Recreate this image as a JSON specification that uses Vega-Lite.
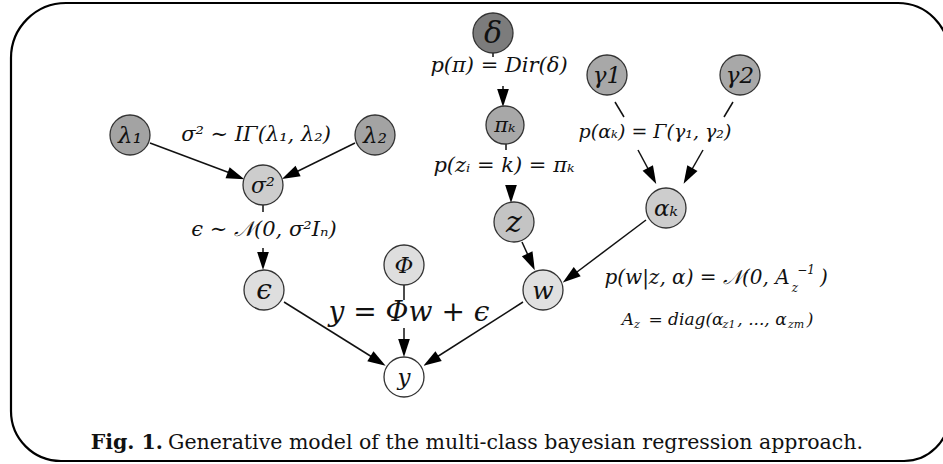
{
  "$schema": "https://vega.github.io/schema/vega-lite/v6.json",
  "width": 943,
  "height": 464,
  "autosize": {"type": "none"},
  "padding": 0,
  "background": "#ffffff",
  "config": {"view": {"stroke": null}, "axis": {"disable": true}},
  "datasets": {
    "frame": [{"name": "border"}],
    "edges": [
      {"x1": 150, "y1": 143, "x2": 238, "y2": 176},
      {"x1": 355, "y1": 143, "x2": 288, "y2": 176},
      {"x1": 263, "y1": 205, "x2": 263, "y2": 212},
      {"x1": 263, "y1": 248, "x2": 263, "y2": 262},
      {"x1": 404, "y1": 285, "x2": 404, "y2": 300},
      {"x1": 404, "y1": 328, "x2": 404, "y2": 350},
      {"x1": 493, "y1": 52, "x2": 493, "y2": 57},
      {"x1": 503, "y1": 86, "x2": 503, "y2": 101},
      {"x1": 506, "y1": 144, "x2": 506, "y2": 150},
      {"x1": 511, "y1": 186, "x2": 511, "y2": 196},
      {"x1": 522, "y1": 242, "x2": 532, "y2": 264},
      {"x1": 615, "y1": 102, "x2": 624, "y2": 117},
      {"x1": 638, "y1": 150, "x2": 653, "y2": 178},
      {"x1": 733, "y1": 102, "x2": 724, "y2": 117},
      {"x1": 703, "y1": 150, "x2": 687, "y2": 178},
      {"x1": 646, "y1": 220, "x2": 569, "y2": 278},
      {"x1": 284, "y1": 302, "x2": 380, "y2": 362},
      {"x1": 523, "y1": 302, "x2": 429, "y2": 362}
    ],
    "heads": [
      {"x": 236, "y": 176, "a": 110.6},
      {"x": 290, "y": 175, "a": 244.1},
      {"x": 263, "y": 261, "a": 180},
      {"x": 404, "y": 348, "a": 180},
      {"x": 503, "y": 98, "a": 180},
      {"x": 511, "y": 194, "a": 180},
      {"x": 531, "y": 262, "a": 155},
      {"x": 652, "y": 176, "a": 152.1},
      {"x": 688, "y": 176, "a": 209.2},
      {"x": 570, "y": 277, "a": 233.3},
      {"x": 378, "y": 361, "a": 122.1},
      {"x": 431, "y": 361, "a": 237.4}
    ],
    "nodes": [
      {"x": 130, "y": 135, "f": "#a3a3a3", "s": 1600, "t": "λ₁", "ts": 23},
      {"x": 375, "y": 135, "f": "#a3a3a3", "s": 1600, "t": "λ₂", "ts": 23},
      {"x": 263, "y": 185, "f": "#cdcdcd", "s": 1600, "t": "σ²", "ts": 22},
      {"x": 264, "y": 290, "f": "#dedede", "s": 1600, "t": "ϵ", "ts": 28},
      {"x": 404, "y": 265, "f": "#dedede", "s": 1600, "t": "Φ", "ts": 23},
      {"x": 404, "y": 377, "f": "#ffffff", "s": 1600, "t": "y", "ts": 23},
      {"x": 493, "y": 33, "f": "#7c7c7c", "s": 1600, "t": "δ", "ts": 30},
      {"x": 505, "y": 125, "f": "#a8a8a8", "s": 1444, "t": "πₖ", "ts": 21},
      {"x": 514, "y": 222, "f": "#c4c4c4", "s": 1600, "t": "z", "ts": 30},
      {"x": 543, "y": 290, "f": "#e0e0e0", "s": 1600, "t": "w", "ts": 25},
      {"x": 607, "y": 75, "f": "#a8a8a8", "s": 1600, "t": "γ1", "ts": 23},
      {"x": 740, "y": 75, "f": "#a8a8a8", "s": 1600, "t": "γ2", "ts": 23},
      {"x": 666, "y": 208, "f": "#cdcdcd", "s": 1600, "t": "αₖ", "ts": 23}
    ],
    "math": [
      {"x": 256, "y": 135, "t": "σ² ∼ IΓ(λ₁, λ₂)", "s": 21},
      {"x": 264, "y": 230, "t": "ϵ ∼ 𝒩(0, σ²Iₙ)", "s": 21},
      {"x": 499, "y": 66, "t": "p(π) = Dir(δ)", "s": 21},
      {"x": 504, "y": 166, "t": "p(zᵢ = k) = πₖ", "s": 21},
      {"x": 655, "y": 132, "t": "p(αₖ) = Γ(γ₁, γ₂)", "s": 19},
      {"x": 409, "y": 313, "t": "y = Φw + ϵ", "s": 28},
      {"x": 697, "y": 278, "t": "p(w|z, α) = 𝒩(0, A", "s": 20},
      {"x": 795, "y": 288, "t": "z", "s": 12},
      {"x": 806, "y": 270, "t": "−1", "s": 12},
      {"x": 824, "y": 278, "t": ")", "s": 20},
      {"x": 628, "y": 320, "t": "A", "s": 17},
      {"x": 637, "y": 325, "t": "z", "s": 11},
      {"x": 686, "y": 320, "t": "= diag(α", "s": 17},
      {"x": 729, "y": 325, "t": "z1", "s": 11},
      {"x": 762, "y": 320, "t": ", ..., α", "s": 17},
      {"x": 796, "y": 325, "t": "zm", "s": 11},
      {"x": 810, "y": 320, "t": ")", "s": 17}
    ],
    "capbold": [
      {"x": 163, "y": 443, "t": "Fig. 1."}
    ],
    "caption": [
      {"x": 168, "y": 443, "t": "Generative model of the multi-class bayesian regression approach."}
    ]
  },
  "layer": [
    {
      "data": {"name": "frame"},
      "mark": {"type": "rect", "clip": true, "fill": "transparent", "stroke": "#000000", "strokeWidth": 2.2, "cornerRadiusTopLeft": 55, "cornerRadiusTopRight": 51, "cornerRadiusBottomLeft": 50, "cornerRadiusBottomRight": 45},
      "encoding": {
        "x": {"datum": 11, "type": "quantitative", "scale": {"domain": [0, 943], "nice": false, "zero": false}, "axis": null},
        "x2": {"datum": 949},
        "y": {"datum": 3, "type": "quantitative", "scale": {"domain": [0, 464], "reverse": true, "nice": false, "zero": false}, "axis": null},
        "y2": {"datum": 461}
      }
    },
    {
      "data": {"name": "edges"},
      "mark": {"type": "rule", "color": "#111111", "strokeWidth": 1.5},
      "encoding": {
        "x": {"field": "x1", "type": "quantitative", "axis": null},
        "y": {"field": "y1", "type": "quantitative", "axis": null},
        "x2": {"field": "x2"},
        "y2": {"field": "y2"}
      }
    },
    {
      "data": {"name": "heads"},
      "mark": {"type": "point", "shape": "M0,-1L0.65,1L-0.65,1Z", "filled": true, "color": "#000000", "size": 324, "opacity": 1},
      "encoding": {
        "x": {"field": "x", "type": "quantitative", "axis": null},
        "y": {"field": "y", "type": "quantitative", "axis": null},
        "angle": {"field": "a", "type": "quantitative", "scale": null}
      }
    },
    {
      "data": {"name": "nodes"},
      "mark": {"type": "point", "shape": "circle", "filled": true, "stroke": "#333333", "strokeWidth": 1.3, "opacity": 1},
      "encoding": {
        "x": {"field": "x", "type": "quantitative", "axis": null},
        "y": {"field": "y", "type": "quantitative", "axis": null},
        "fill": {"field": "f", "type": "nominal", "scale": null},
        "size": {"field": "s", "type": "quantitative", "scale": null}
      }
    },
    {
      "data": {"name": "nodes"},
      "mark": {"type": "text", "font": "DejaVu Serif", "fontStyle": "italic", "color": "#111111", "baseline": "middle", "dy": 1},
      "encoding": {
        "x": {"field": "x", "type": "quantitative", "axis": null},
        "y": {"field": "y", "type": "quantitative", "axis": null},
        "text": {"field": "t"},
        "size": {"field": "ts", "type": "quantitative", "scale": null}
      }
    },
    {
      "data": {"name": "math"},
      "mark": {"type": "text", "font": "DejaVu Serif", "fontStyle": "italic", "color": "#111111", "baseline": "middle"},
      "encoding": {
        "x": {"field": "x", "type": "quantitative", "axis": null},
        "y": {"field": "y", "type": "quantitative", "axis": null},
        "text": {"field": "t"},
        "size": {"field": "s", "type": "quantitative", "scale": null}
      }
    },
    {
      "data": {"name": "capbold"},
      "mark": {"type": "text", "font": "DejaVu Serif", "fontWeight": "bold", "align": "right", "baseline": "middle", "fontSize": 20.5, "color": "#111111"},
      "encoding": {
        "x": {"field": "x", "type": "quantitative", "axis": null},
        "y": {"field": "y", "type": "quantitative", "axis": null},
        "text": {"field": "t"}
      }
    },
    {
      "data": {"name": "caption"},
      "mark": {"type": "text", "font": "DejaVu Serif", "align": "left", "baseline": "middle", "fontSize": 20.5, "color": "#111111"},
      "encoding": {
        "x": {"field": "x", "type": "quantitative", "axis": null},
        "y": {"field": "y", "type": "quantitative", "axis": null},
        "text": {"field": "t"}
      }
    }
  ]
}
